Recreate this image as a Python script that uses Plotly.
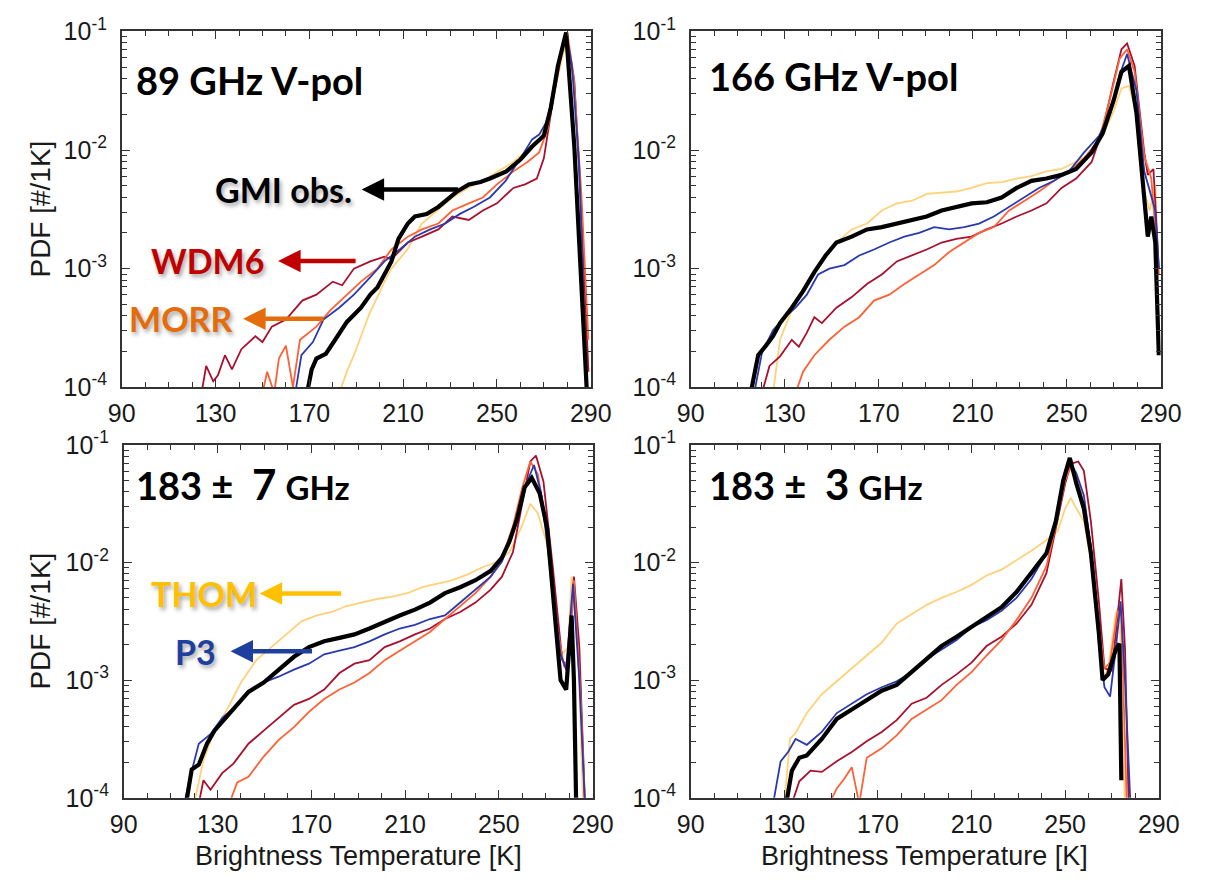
import plotly.graph_objects as go

W, H = 1205, 885

# ---------------- 89 GHz V-pol ----------------
t89_gmi = [169, 171, 173, 177, 181, 186, 192, 196, 199, 202, 205, 208, 212, 215, 220, 225, 229, 233, 238, 243, 247, 254, 260, 265, 270, 273, 276, 279.5, 283, 286, 288.5]
v89_gmi = [8.9e-5, 1.41e-4, 1.74e-4, 1.91e-4, 2.51e-4, 3.55e-4, 4.68e-4, 6.03e-4, 6.92e-4, 8.91e-4, 1.15e-3, 1.78e-3, 2.40e-3, 2.75e-3, 2.88e-3, 3.31e-3, 3.80e-3, 4.47e-3, 5.13e-3, 5.37e-3, 5.75e-3, 6.61e-3, 8.32e-3, 1.07e-2, 1.32e-2, 2.29e-2, 5.13e-2, 9.8e-2, 1.07e-2, 8.91e-4, 7.9e-5]
t89_wdm6 = [124, 126, 129, 131, 134, 137, 141, 147, 150, 154, 160, 167, 173, 180, 184, 189, 196, 202, 205, 212, 218, 225, 231, 238, 244, 250, 257, 262, 267, 270, 273, 276, 279.5, 283, 286, 289]
v89_wdm6 = [8.9e-5, 1.51e-4, 1.12e-4, 1.26e-4, 1.86e-4, 1.41e-4, 2.09e-4, 2.69e-4, 2.40e-4, 3.24e-4, 3.72e-4, 5.37e-4, 6.03e-4, 7.76e-4, 7.24e-4, 1.00e-3, 1.15e-3, 1.26e-3, 1.20e-3, 1.66e-3, 1.86e-3, 2.14e-3, 2.75e-3, 2.57e-3, 3.09e-3, 3.55e-3, 4.79e-3, 5.13e-3, 5.75e-3, 8.51e-3, 2.04e-2, 5.13e-2, 9.12e-2, 3.80e-2, 3.09e-3, 1.35e-4]
t89_morr = [150, 152, 155, 157, 160, 163, 166, 173, 179, 186, 192, 199, 205, 212, 218, 225, 231, 238, 244, 250, 257, 263, 268, 271.5, 274.7, 278, 280, 282.7, 286, 289]
v89_morr = [8.9e-5, 1.35e-4, 8.9e-5, 1.74e-4, 2.24e-4, 1.0e-4, 2.51e-4, 3.24e-4, 4.47e-4, 6.03e-4, 7.76e-4, 1.0e-3, 1.45e-3, 1.86e-3, 2.14e-3, 2.40e-3, 3.09e-3, 3.55e-3, 3.98e-3, 5.13e-3, 6.61e-3, 7.94e-3, 9.55e-3, 1.48e-2, 3.31e-2, 7.08e-2, 9.77e-2, 4.27e-2, 4.27e-3, 2.51e-4]
t89_thom = [182.7, 186, 189, 192.4, 195.6, 199, 202, 205, 211.8, 218, 224.7, 231, 237.6, 244, 250.5, 257, 263.4, 268, 271.5, 274.7, 278, 279.5, 282.7, 286, 289]
v89_thom = [8.9e-5, 1.35e-4, 1.86e-4, 2.88e-4, 4.17e-4, 5.75e-4, 7.76e-4, 1.0e-3, 1.45e-3, 2.40e-3, 3.09e-3, 3.98e-3, 4.79e-3, 5.50e-3, 6.61e-3, 7.94e-3, 1.02e-2, 1.23e-2, 1.66e-2, 3.16e-2, 6.31e-2, 7.59e-2, 3.80e-2, 3.09e-3, 1.35e-4]
t89_p3 = [164, 166.6, 171.5, 176, 182.7, 189, 195.6, 202, 208.5, 215, 221.5, 228, 234, 240, 247, 253.7, 260, 265, 268, 271.5, 274.7, 278, 279.5, 282, 285, 288.4]
v89_p3 = [8.9e-5, 1.86e-4, 2.40e-4, 3.72e-4, 4.68e-4, 6.03e-4, 8.32e-4, 1.15e-3, 1.45e-3, 1.86e-3, 2.14e-3, 2.40e-3, 2.88e-3, 3.31e-3, 3.98e-3, 5.50e-3, 8.51e-3, 1.23e-2, 1.35e-2, 1.78e-2, 3.80e-2, 7.94e-2, 9.8e-2, 5.13e-2, 7.94e-3, 8.9e-5]

# ---------------- 166 GHz V-pol ----------------
t166_gmi = [115.5, 118.7, 122, 125, 128, 133, 137.8, 142.6, 147.4, 152, 158.5, 165, 171.3, 177.7, 184, 190.4, 196.8, 203, 209.5, 216, 222.3, 228.7, 235, 241.4, 247.8, 254, 260.6, 265.3, 270, 273.3, 276.5, 279.7, 283, 284.5, 286, 287.7, 289.2]
v166_gmi = [8.9e-5, 1.86e-4, 2.24e-4, 2.69e-4, 3.47e-4, 4.68e-4, 6.46e-4, 9.33e-4, 1.29e-3, 1.66e-3, 1.86e-3, 2.14e-3, 2.24e-3, 2.40e-3, 2.57e-3, 2.75e-3, 3.09e-3, 3.31e-3, 3.55e-3, 3.63e-3, 3.98e-3, 4.79e-3, 5.50e-3, 5.75e-3, 6.17e-3, 6.92e-3, 9.55e-3, 1.38e-2, 2.63e-2, 4.57e-2, 5.13e-2, 2.04e-2, 3.98e-3, 1.86e-3, 2.75e-3, 1.66e-3, 1.86e-4]
t166_wdm6 = [120.3, 123.5, 128, 133, 136, 139.4, 142.6, 145.8, 152, 158.5, 165, 171.3, 177.7, 184, 190.4, 196.8, 203, 209.5, 216, 222.3, 228.7, 235, 241.4, 247.8, 254, 260.6, 265.3, 270, 273.3, 275.7, 278.9, 283, 284.5, 286.9, 289.2]
v166_wdm6 = [8.9e-5, 1.51e-4, 1.82e-4, 2.51e-4, 2.19e-4, 2.88e-4, 3.89e-4, 3.47e-4, 4.68e-4, 5.75e-4, 7.41e-4, 8.91e-4, 1.15e-3, 1.29e-3, 1.45e-3, 1.66e-3, 1.78e-3, 1.86e-3, 2.14e-3, 2.40e-3, 2.75e-3, 3.09e-3, 3.55e-3, 4.79e-3, 5.75e-3, 7.94e-3, 1.48e-2, 3.80e-2, 7.08e-2, 7.94e-2, 5.13e-2, 9.55e-3, 6.17e-3, 6.92e-3, 1.0e-3]
t166_morr = [134.6, 137.8, 142.6, 149, 155.4, 161.7, 168, 174.5, 180.9, 187.2, 193.6, 200, 206.4, 212.7, 219, 225.5, 231.9, 238.2, 244.6, 251, 257.4, 263.8, 268.5, 272.5, 275.7, 278.9, 283, 286, 289.2]
v166_morr = [8.9e-5, 1.35e-4, 1.86e-4, 2.51e-4, 3.24e-4, 3.89e-4, 5.37e-4, 6.03e-4, 7.41e-4, 8.91e-4, 1.07e-3, 1.38e-3, 1.66e-3, 2.0e-3, 2.24e-3, 3.09e-3, 3.72e-3, 4.47e-3, 5.50e-3, 6.61e-3, 8.51e-3, 1.23e-2, 2.75e-2, 5.89e-2, 7.08e-2, 4.57e-2, 8.91e-3, 5.75e-3, 8.91e-4]
t166_thom = [125, 128, 133, 139.4, 145.8, 152, 158.5, 165, 171.3, 177.7, 184, 190.4, 196.8, 203, 209.5, 216, 222.3, 228.7, 235, 241.4, 247.8, 254, 260.6, 265.3, 270, 273.3, 276.5, 279.7, 283, 285.3, 287.7, 289.2]
v166_thom = [8.9e-5, 2.51e-4, 4.47e-4, 7.76e-4, 1.15e-3, 1.66e-3, 2.14e-3, 2.40e-3, 3.09e-3, 3.55e-3, 3.72e-3, 4.27e-3, 4.37e-3, 4.47e-3, 4.79e-3, 5.25e-3, 5.37e-3, 5.75e-3, 6.03e-3, 6.61e-3, 6.92e-3, 7.94e-3, 9.55e-3, 1.32e-2, 2.14e-2, 3.31e-2, 3.47e-2, 2.04e-2, 4.47e-3, 3.09e-3, 5.13e-3, 8.91e-4]
t166_p3 = [117, 120.3, 125, 130, 134.6, 139.4, 144.2, 149, 155.4, 161.7, 168, 174.5, 180.9, 187.2, 193.6, 200, 206.4, 212.7, 219, 225.5, 231.9, 238.2, 244.6, 251, 257.4, 263.8, 268.5, 272.5, 275.7, 279.7, 283, 285.3, 287.7, 289.2]
v166_p3 = [8.9e-5, 1.95e-4, 3.02e-4, 3.89e-4, 4.68e-4, 6.03e-4, 8.91e-4, 1.0e-3, 1.07e-3, 1.29e-3, 1.45e-3, 1.66e-3, 1.86e-3, 2.0e-3, 2.24e-3, 2.14e-3, 2.24e-3, 2.40e-3, 2.75e-3, 3.31e-3, 3.98e-3, 4.79e-3, 5.50e-3, 6.61e-3, 9.55e-3, 1.32e-2, 2.04e-2, 4.27e-2, 6.46e-2, 3.16e-2, 6.61e-3, 4.47e-3, 3.09e-3, 1.0e-3]

# ---------------- 183 +/- 7 GHz ----------------
t7_gmi = [116.6, 119, 122, 125.5, 128.7, 133.5, 138.4, 143.2, 149.7, 156, 162.6, 169, 175.5, 182, 188.4, 194.8, 201.3, 207.7, 214.2, 220.6, 227, 233.5, 240, 246.5, 251.3, 254.5, 257.7, 261, 264, 267.4, 270.6, 273.9, 276.3, 278.7, 281, 282, 283]
v7_gmi = [8.9e-5, 1.74e-4, 1.91e-4, 2.88e-4, 3.72e-4, 4.79e-4, 6.17e-4, 7.94e-4, 9.55e-4, 1.23e-3, 1.58e-3, 1.91e-3, 2.14e-3, 2.29e-3, 2.45e-3, 2.75e-3, 3.16e-3, 3.55e-3, 3.98e-3, 4.57e-3, 5.50e-3, 6.17e-3, 7.08e-3, 8.51e-3, 1.10e-2, 1.51e-2, 2.34e-2, 4.37e-2, 5.25e-2, 3.89e-2, 1.95e-2, 3.55e-3, 1.0e-3, 8.32e-4, 3.55e-3, 1.0e-3, 7.9e-5]
t7_wdm6 = [122, 124, 127, 132, 136.8, 143.2, 149.7, 156, 162.6, 169, 175.5, 182, 188.4, 194.8, 201.3, 207.7, 214.2, 220.6, 227, 233.5, 240, 246.5, 251.3, 256, 260, 263.4, 265.8, 269, 273, 277, 279.5, 282, 284.3, 286.8]
v7_wdm6 = [8.9e-5, 1.41e-4, 1.17e-4, 1.62e-4, 1.95e-4, 2.88e-4, 3.72e-4, 4.79e-4, 6.17e-4, 6.92e-4, 8.32e-4, 1.15e-3, 1.38e-3, 1.48e-3, 1.91e-3, 2.14e-3, 2.45e-3, 2.75e-3, 3.31e-3, 3.80e-3, 4.57e-3, 5.89e-3, 7.59e-3, 1.23e-2, 3.16e-2, 7.24e-2, 8.13e-2, 4.90e-2, 9.12e-3, 1.48e-3, 1.29e-3, 7.59e-3, 1.91e-3, 7.9e-5]
t7_morr = [135, 138.4, 143.2, 149.7, 156, 162.6, 169, 175.5, 182, 188.4, 194.8, 201.3, 207.7, 214.2, 220.6, 227, 233.5, 240, 246.5, 251.3, 256, 260, 263.4, 266.6, 269.8, 273.9, 277.9, 280.3, 282, 285, 286.8]
v7_morr = [8.9e-5, 1.35e-4, 1.51e-4, 2.24e-4, 3.09e-4, 3.98e-4, 5.37e-4, 6.92e-4, 8.32e-4, 9.55e-4, 1.15e-3, 1.48e-3, 1.78e-3, 2.14e-3, 2.57e-3, 3.31e-3, 4.27e-3, 5.50e-3, 7.59e-3, 1.10e-2, 2.04e-2, 4.37e-2, 7.24e-2, 5.62e-2, 2.34e-2, 3.55e-3, 1.29e-3, 1.66e-3, 7.08e-3, 6.31e-4, 7.9e-5]
t7_thom = [120, 124, 128.7, 133.5, 140, 146.5, 153, 159.4, 165.8, 172.3, 178.7, 185, 191.6, 198, 204.5, 211, 217.4, 224, 230.3, 236.8, 243, 249.7, 254.5, 259.4, 263.4, 266.6, 270.6, 273.9, 277, 279.5, 281, 283.5, 286]
v7_thom = [8.9e-5, 2.09e-4, 3.72e-4, 5.37e-4, 9.55e-4, 1.48e-3, 1.91e-3, 2.45e-3, 3.16e-3, 3.55e-3, 3.80e-3, 4.27e-3, 4.57e-3, 4.90e-3, 5.13e-3, 5.50e-3, 6.17e-3, 6.61e-3, 7.08e-3, 7.94e-3, 9.12e-3, 1.02e-2, 1.23e-2, 1.95e-2, 3.16e-2, 2.63e-2, 1.41e-2, 3.16e-3, 1.66e-3, 1.91e-3, 7.59e-3, 2.63e-3, 7.9e-5]
t7_p3 = [115.8, 118, 122, 127, 132, 136.8, 143.2, 149.7, 156, 162.6, 169, 175.5, 182, 188.4, 194.8, 201.3, 207.7, 214.2, 220.6, 227, 233.5, 240, 246.5, 251.3, 256, 261, 265, 268, 272.3, 276.3, 278.7, 281.6, 284.3, 286.8]
v7_p3 = [8.9e-5, 1.41e-4, 2.88e-4, 3.47e-4, 4.79e-4, 5.75e-4, 7.94e-4, 9.55e-4, 1.07e-3, 1.23e-3, 1.38e-3, 1.66e-3, 1.78e-3, 1.91e-3, 2.14e-3, 2.45e-3, 2.75e-3, 2.95e-3, 3.31e-3, 3.55e-3, 4.57e-3, 5.89e-3, 7.59e-3, 1.02e-2, 1.82e-2, 4.37e-2, 6.76e-2, 3.89e-2, 7.94e-3, 1.66e-3, 1.23e-3, 6.61e-3, 1.0e-3, 7.9e-5]

# ---------------- 183 +/- 3 GHz ----------------
t3_gmi = [130.8, 133.2, 136.4, 139.6, 146, 152.4, 158.8, 165.2, 171.6, 178, 184.4, 190.8, 197.2, 203.6, 210, 216.4, 222.8, 229.2, 235.6, 242, 246, 249.2, 252, 254.8, 258, 261, 264.4, 266, 268.4, 271.6, 273.2, 274]
v3_gmi = [8.9e-5, 1.70e-4, 2.19e-4, 2.29e-4, 3.16e-4, 4.68e-4, 5.62e-4, 6.76e-4, 8.13e-4, 9.12e-4, 1.17e-3, 1.51e-3, 1.95e-3, 2.34e-3, 2.82e-3, 3.39e-3, 4.17e-3, 5.62e-3, 8.13e-3, 1.20e-2, 2.24e-2, 5.01e-2, 7.76e-2, 4.68e-2, 2.88e-2, 1.20e-2, 2.51e-3, 1.0e-3, 1.12e-3, 1.82e-3, 2.04e-3, 1.41e-4]
t3_wdm6 = [133.2, 136.4, 141.2, 146, 152.4, 158.8, 165.2, 171.6, 178, 184.4, 190.8, 197.2, 203.6, 210, 216.4, 222.8, 229.2, 235.6, 242, 246.8, 250, 252.4, 255.6, 258, 261, 264.4, 266.8, 270, 272.4, 274, 275.6, 277.2]
v3_wdm6 = [8.9e-5, 1.38e-4, 1.70e-4, 1.66e-4, 2.04e-4, 2.45e-4, 3.02e-4, 3.63e-4, 4.57e-4, 6.31e-4, 7.08e-4, 9.12e-4, 1.12e-3, 1.41e-3, 1.95e-3, 2.34e-3, 3.02e-3, 4.37e-3, 8.13e-3, 2.24e-2, 4.68e-2, 6.92e-2, 7.24e-2, 6.03e-2, 2.24e-2, 4.68e-3, 1.26e-3, 1.20e-3, 3.39e-3, 7.24e-3, 1.82e-3, 7.9e-5]
t3_morr = [149.2, 152.4, 155.6, 158.8, 162, 165.2, 171.6, 178, 184.4, 190.8, 197.2, 203.6, 210, 216.4, 222.8, 229.2, 235.6, 242, 246.8, 250, 252.4, 255.6, 258, 261, 264.4, 266.8, 269.2, 272.4, 274, 276.4]
v3_morr = [8.9e-5, 1.20e-4, 1.45e-4, 1.82e-4, 8.9e-5, 2.19e-4, 2.63e-4, 3.39e-4, 4.68e-4, 5.62e-4, 6.76e-4, 9.12e-4, 1.17e-3, 1.62e-3, 2.19e-3, 3.24e-3, 5.01e-3, 9.33e-3, 2.40e-2, 5.01e-2, 6.46e-2, 5.01e-2, 3.02e-2, 1.35e-2, 3.02e-3, 1.26e-3, 1.41e-3, 3.89e-3, 3.47e-3, 7.9e-5]
t3_thom = [130, 132.4, 134.8, 139.6, 146, 152.4, 158.8, 165.2, 171.6, 178, 184.4, 190.8, 197.2, 203.6, 210, 216.4, 222.8, 229.2, 235.6, 242, 246.8, 250, 252.4, 254.8, 258, 261, 264.4, 266, 268.4, 271.6, 273.2, 275.6]
v3_thom = [8.9e-5, 3.16e-4, 3.55e-4, 5.25e-4, 7.59e-4, 9.77e-4, 1.26e-3, 1.62e-3, 2.09e-3, 3.02e-3, 3.63e-3, 4.37e-3, 5.01e-3, 5.62e-3, 6.46e-3, 7.76e-3, 8.71e-3, 1.05e-2, 1.26e-2, 1.55e-2, 1.86e-2, 2.88e-2, 3.55e-2, 2.88e-2, 2.24e-2, 1.05e-2, 2.51e-3, 1.05e-3, 1.26e-3, 3.63e-3, 4.37e-3, 7.9e-5]
t3_p3 = [125.2, 128.4, 131.6, 134.8, 139.6, 146, 152.4, 158.8, 165.2, 171.6, 178, 184.4, 190.8, 197.2, 203.6, 210, 216.4, 222.8, 229.2, 235.6, 242, 246.8, 250, 252, 254.8, 258, 261, 264.4, 266.8, 269.2, 271.6, 273.7, 275.6, 278]
v3_p3 = [8.9e-5, 2.04e-4, 2.45e-4, 3.16e-4, 2.82e-4, 3.63e-4, 5.25e-4, 6.31e-4, 7.59e-4, 8.71e-4, 9.77e-4, 1.17e-3, 1.51e-3, 1.82e-3, 2.19e-3, 2.82e-3, 3.24e-3, 3.89e-3, 5.01e-3, 7.24e-3, 1.20e-2, 2.69e-2, 5.37e-2, 7.24e-2, 5.75e-2, 3.72e-2, 1.35e-2, 2.09e-3, 8.71e-4, 7.24e-4, 1.82e-3, 4.68e-3, 9.77e-4, 7.9e-5]

panel_titles = ["89 GHz V-pol", "166 GHz V-pol",
                "183 \u00b1  <span style='font-size:42px'>7</span> <span style='font-size:33px'>GHz</span>",
                "183 \u00b1  <span style='font-size:42px'>3</span> <span style='font-size:33px'>GHz</span>"]
x_ticks = [90, 130, 170, 210, 250, 290]
y_ticks = [1e-4, 1e-3, 1e-2, 1e-1]
y_ticktext = ["10<sup>-4</sup>", "10<sup>-3</sup>", "10<sup>-2</sup>", "10<sup>-1</sup>"]

colors = {"thom": "#FFD27A", "wdm6": "#A8102E", "morr": "#FF6136", "p3": "#2A3AAE", "gmi": "#000000"}
widths = {"thom": 1.8, "wdm6": 1.8, "morr": 1.8, "p3": 1.8, "gmi": 4.2}

panels = [
    {"thom": (t89_thom, v89_thom), "wdm6": (t89_wdm6, v89_wdm6), "morr": (t89_morr, v89_morr), "p3": (t89_p3, v89_p3), "gmi": (t89_gmi, v89_gmi)},
    {"thom": (t166_thom, v166_thom), "wdm6": (t166_wdm6, v166_wdm6), "morr": (t166_morr, v166_morr), "p3": (t166_p3, v166_p3), "gmi": (t166_gmi, v166_gmi)},
    {"thom": (t7_thom, v7_thom), "wdm6": (t7_wdm6, v7_wdm6), "morr": (t7_morr, v7_morr), "p3": (t7_p3, v7_p3), "gmi": (t7_gmi, v7_gmi)},
    {"thom": (t3_thom, v3_thom), "wdm6": (t3_wdm6, v3_wdm6), "morr": (t3_morr, v3_morr), "p3": (t3_p3, v3_p3), "gmi": (t3_gmi, v3_gmi)},
]

# panel boxes in pixels: (left, right, top, bottom)
boxes = [(111, 594, 14, 383), (697, 1181, 14, 383), (113, 596, 443, 809), (697, 1179, 443, 809)]

fig = go.Figure()
for i, p in enumerate(panels):
    sfx = "" if i == 0 else str(i + 1)
    for key in ["thom", "wdm6", "morr", "p3", "gmi"]:
        t, v = p[key]
        assert len(t) == len(v), (i, key, len(t), len(v))
        fig.add_trace(go.Scatter(x=t, y=v, mode="lines", xaxis="x" + sfx, yaxis="y" + sfx,
                                 line=dict(color=colors[key], width=widths[key]),
                                 showlegend=False, hoverinfo="skip"))

axfont = dict(family="Liberation Sans, Arial, sans-serif", size=25, color="#1a1a1a")
layout = dict(width=W, height=H, margin=dict(l=0, r=0, t=0, b=0),
              paper_bgcolor="white", plot_bgcolor="white", showlegend=False)
minor_y = [m * 10.0 ** e for e in (-4, -3, -2) for m in range(2, 10)]
for i, (l, r, t, b) in enumerate(boxes):
    sfx = "" if i == 0 else str(i + 1)
    layout["xaxis" + sfx] = dict(
        domain=[l / W, r / W], anchor="y" + sfx, range=[90, 290],
        tickvals=x_ticks, ticks="inside", ticklen=8, tickwidth=1.2, tickcolor="#333",
        minor=dict(tickvals=list(range(100, 290, 10)), ticks="inside", ticklen=5, tickwidth=1, tickcolor="#333"),
        showline=True, linecolor="#333", linewidth=1.6, mirror="allticks",
        showgrid=False, zeroline=False, tickfont=axfont, ticklabelstandoff=3)
    layout["yaxis" + sfx] = dict(
        domain=[1 - b / H, 1 - t / H], anchor="x" + sfx, type="log", range=[-4, -1],
        tickvals=y_ticks, ticktext=y_ticktext, ticks="inside", ticklen=8, tickwidth=1.2, tickcolor="#333",
        minor=dict(tickvals=minor_y, ticks="inside", ticklen=5, tickwidth=1, tickcolor="#333"),
        showline=True, linecolor="#333", linewidth=1.6, mirror="allticks",
        showgrid=False, zeroline=False, tickfont=axfont, ticklabelstandoff=8)

annots = []
title_pos = [(124, 64), (714, 60), (124, 484), (714, 484)]
for (px, py), txt in zip(title_pos, panel_titles):
    annots.append(dict(text="<b>" + txt + "</b>", x=px / W, y=1 - py / H, xref="paper", yref="paper",
                       xanchor="left", yanchor="middle", showarrow=False,
                       font=dict(family="Lato, Open Sans, sans-serif", size=38, color="black")))

# y-axis titles
for py in [(14 + 383) / 2, (443 + 809) / 2]:
    annots.append(dict(text="PDF [#/1K]", x=27 / W, y=1 - py / H, xref="paper", yref="paper",
                       xanchor="center", yanchor="middle", textangle=-90, showarrow=False,
                       font=dict(family="Liberation Sans, Arial, sans-serif", size=28, color="#1a1a1a")))
# x-axis titles
for px in [(113 + 596) / 2, (697 + 1179) / 2]:
    annots.append(dict(text="Brightness Temperature [K]", x=px / W, y=1 - 869 / H, xref="paper", yref="paper",
                       xanchor="center", yanchor="middle", showarrow=False, borderpad=0,
                       font=dict(family="Liberation Sans, Arial, sans-serif", size=27, color="#1a1a1a")))

# model labels with arrows: (text, color, text_left_px, y_px, arrow_tail_px, arrow_head_px)
labels = [
    ("GMI obs.", "#000000", 205, 178, 456, 358),
    ("WDM6", "#C00000", 139, 252, 351, 272),
    ("MORR", "#E46C0A", 116, 312, 318, 236),
    ("THOM", "#FFC000", 139, 597, 336, 253),
    ("P3", "#1F3F9F", 164, 657, 306, 223),
]
for txt, col, tx, ty, tail, head in labels:
    annots.append(dict(text="<b>" + txt + "</b>", x=tx / W, y=1 - ty / H, xref="paper", yref="paper",
                       xanchor="left", yanchor="middle", showarrow=False,
                       font=dict(family="Lato, Open Sans, sans-serif", size=34, color=col,
                                 shadow="2px 3px 4px rgba(0,0,0,0.35)")))
    annots.append(dict(text="", x=head / W, y=1 - ty / H, xref="paper", yref="paper",
                       ax=tail - head, ay=0, axref="pixel", ayref="pixel", showarrow=True,
                       arrowhead=2, arrowsize=1.0, arrowwidth=4.5, arrowcolor=col))

layout["annotations"] = annots
fig.update_layout(**layout)
fig.write_html("out.html")
